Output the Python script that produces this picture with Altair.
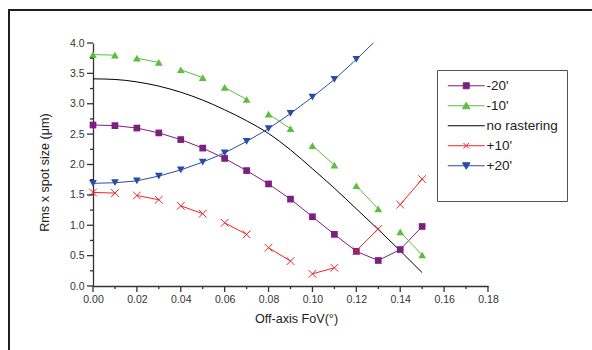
import altair as alt
import pandas as pd

# ---------------- data ----------------
fov = [0.00, 0.01, 0.02, 0.03, 0.04, 0.05, 0.06, 0.07,
       0.08, 0.09, 0.10, 0.11, 0.12, 0.13, 0.14, 0.15]

minus20 = [2.65, 2.64, 2.60, 2.52, 2.41, 2.27, 2.10, 1.90,
           1.68, 1.43, 1.14, 0.85, 0.57, 0.42, 0.60, 0.98]
minus10 = [3.81, 3.80, 3.75, 3.68, 3.56, 3.43, 3.27, 3.07,
           2.83, 2.59, 2.31, 1.99, 1.65, 1.27, 0.89, 0.51]
no_raster = [3.41, 3.40, 3.36, 3.29, 3.19, 3.06, 2.90, 2.72,
             2.51, 2.24, 1.93, 1.61, 1.27, 0.93, 0.58, 0.22]
plus10 = [1.54, 1.53, 1.49, 1.42, 1.32, 1.19, 1.04, 0.85,
          0.63, 0.41, 0.20, 0.30, 0.58, 0.94, 1.34, 1.76]
plus20 = [1.69, 1.70, 1.73, 1.81, 1.91, 2.04, 2.19, 2.38,
          2.59, 2.84, 3.11, 3.40, 3.73, 4.08]

series_names = ["-20'", "-10'", "no rastering", "+10'", "+20'"]
series_values = [minus20, minus10, no_raster, plus10, plus20]
paired = [False, True, False, True, False]   # -10' and +10' drawn as separate pairs

y_major = [0.0, 0.5, 1.0, 1.5, 2.0, 2.5, 3.0, 3.5, 4.0]
y_minor = [0.25, 0.75, 1.25, 1.75, 2.25, 2.75, 3.25, 3.75]
x_major = [0.00, 0.02, 0.04, 0.06, 0.08, 0.10, 0.12, 0.14, 0.16, 0.18]
x_minor = [0.01, 0.03, 0.05, 0.07, 0.09, 0.11, 0.13, 0.15, 0.17]

rows = []
for name, vals, pr in zip(series_names, series_values, paired):
    for i, v in enumerate(vals):
        rows.append({"fov": fov[i], "value": v, "series": name,
                     "seg": f"{name}|{i // 2 if pr else 0}"})
df = pd.DataFrame(rows)

# ---------------- styles ----------------
colors = ["#7D1F80", "#5CBE3E", "#000000", "#EE2528", "#2B4CA6"]
FONT = "Liberation Sans"
AX = "#333333"

common = dict(
    grid=False, labelOverlap=False, labelFlush=False, ticks=False,
    domainColor=AX, domainWidth=1.3,
    labelColor="#333", labelFontSize=10.5, labelFont=FONT,
    titleFont=FONT, titleFontSize=12.6, titleFontWeight="normal", titleColor="#222",
)
xaxis = alt.Axis(values=x_major, format=".2f", orient="bottom", labelPadding=8,
                 titlePadding=8, titleX=203, **common)
yaxis = alt.Axis(values=y_major, format=".1f", orient="left", labelPadding=9,
                 titleX=-42, titleY=129, **common)

xscale = alt.Scale(domain=[0, 0.18], nice=False, zero=False)
yscale = alt.Scale(domain=[0, 4], nice=False)
X = alt.X("fov:Q", scale=xscale, axis=xaxis, title="Off-axis FoV(°)")
Y = alt.Y("value:Q", scale=yscale, axis=yaxis, title="Rms x spot size (μm)")

base = alt.Chart(df)
layers = []

# lines
for name, col in zip(series_names, colors):
    interp = "monotone" if name == "no rastering" else "linear"
    layers.append(
        base.transform_filter(alt.datum.series == name)
        .mark_line(color=col, strokeWidth=1, clip=True, interpolate=interp)
        .encode(x=X, y=Y, detail="seg:N", order="fov:Q")
    )

# markers
X_PATH = "M-1,-1L1,1M-1,1L1,-1"
marker_specs = {
    "-20'": dict(shape="square", filled=True, size=45),
    "-10'": dict(shape="triangle-up", filled=True, size=60),
    "+10'": dict(shape=X_PATH, filled=False, size=60),
    "+20'": dict(shape="triangle-down", filled=True, size=60),
}
for name, col in zip(series_names, colors):
    if name not in marker_specs:
        continue
    spec = marker_specs[name]
    layers.append(
        base.transform_filter((alt.datum.series == name) & (alt.datum.value <= 4))
        .mark_point(color=col, strokeWidth=1, opacity=1, **spec)
        .encode(x=X, y=Y)
    )

# axis tick marks, placed through the shared scales
for vals, ln in [(x_major, 6), (x_minor, 3)]:
    layers.append(
        alt.Chart(pd.DataFrame({"fov": vals}))
        .mark_rule(color=AX, strokeWidth=1.3)
        .encode(x=X, y=alt.value(243), y2=alt.value(243 + ln))
    )
for vals, ln in [(y_major, 6), (y_minor, 3)]:
    layers.append(
        alt.Chart(pd.DataFrame({"value": vals}))
        .mark_rule(color=AX, strokeWidth=1.3)
        .encode(y=Y, x=alt.value(0), x2=alt.value(-ln))
    )

# legend (invisible layer carrying the legend with line+marker symbols)
legend_paths = [
    "M-1,0L6.4,0M2.1,-0.6L3.3,-0.6L3.3,0.6L2.1,0.6Z",
    "M-1,0L6.4,0M2.7,-0.7L3.45,0.6L1.95,0.6Z",
    "M-1,0L6.4,0",
    "M-1,0L6.4,0M2.15,-0.55L3.25,0.55M2.15,0.55L3.25,-0.55",
    "M-1,0L6.4,0M2.7,0.7L3.45,-0.6L1.95,-0.6Z",
]
leg = alt.Legend(
    orient="none", legendX=344, legendY=27, title=" ", titleOrient="bottom",
    titleFontSize=14, titlePadding=6,
    padding=9, strokeColor="#555", fillColor="white",
    symbolSize=100, symbolStrokeWidth=1, labelOffset=27,
    labelFont=FONT, labelFontSize=13.5, labelColor="#222",
    rowPadding=5, symbolOpacity=1,
)
cscale = alt.Scale(domain=series_names, range=colors)
layers.append(
    base.mark_point(opacity=0, filled=True)
    .encode(
        x=X, y=Y,
        fill=alt.Fill("series:N", scale=cscale, legend=leg, sort=series_names),
        stroke=alt.Stroke("series:N", scale=cscale, legend=leg, sort=series_names),
        shape=alt.Shape("series:N", scale=alt.Scale(domain=series_names, range=legend_paths),
                        legend=leg, sort=series_names),
    )
)

# outer frame (decorative)
frame = alt.Chart(pd.DataFrame({"k": [0]}))
layers.append(frame.mark_rule(color="#231F20", strokeWidth=2).encode(
    x=alt.value(-85), x2=alt.value(510), y=alt.value(-33)))
layers.append(frame.mark_rule(color="#231F20", strokeWidth=2).encode(
    x=alt.value(-84), y=alt.value(-34), y2=alt.value(320)))

chart = alt.layer(*layers).properties(
    width=395, height=243, background="white",
    padding={"left": 93, "top": 43, "right": 104, "bottom": 64},
    autosize=alt.AutoSizeParams(type="none"),
).configure_view(strokeWidth=0)

chart.save("out.html", embed_options={"renderer": "svg", "actions": False})
